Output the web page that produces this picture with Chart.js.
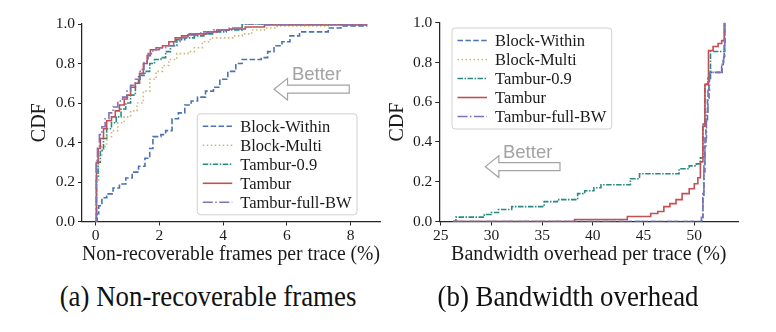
<!DOCTYPE html>
<html lang="en">
  <head>
    <meta charset="utf-8" />
    <title>Tambur CDFs</title>
    <script src="https://cdn.jsdelivr.net/npm/chart.js@4.4.1/dist/chart.umd.min.js"></script>
    <style>
      body { margin: 0; background: #fff; width: 776px; height: 332px; position: relative; overflow: hidden; }
      canvas { position: absolute; top: 0; }
      .caption {
        position: absolute; top: 279px; width: 400px; text-align: center;
        font-family: "Liberation Serif", serif; font-size: 30px; color: #111;
        transform: scaleX(0.895); white-space: nowrap;
      }
    </style>
  </head>
  <body>
    <canvas id="frames" width="388" height="275" style="left:0"></canvas>
    <canvas id="bandwidth" width="390" height="275" style="left:386px"></canvas>
    <div class="caption" style="left:8px">(a) Non-recoverable frames</div>
    <div class="caption" style="left:368px">(b) Bandwidth overhead</div>

    <script>
      const seriesNames = ['Block-Within', 'Block-Multi', 'Tambur-0.9', 'Tambur', 'Tambur-full-BW'];
      const seriesColors = ['#4c72b0', '#ccb974', '#2a8a83', '#c44e52', '#8172b3'];
      const seriesDashes = [[5.5, 2.4], [1.5, 2.5], [5.5, 1.5, 1.5, 1.5], [], [10, 2.5, 1.5, 2.5]];

      const cdfTicks = [0, 0.2, 0.4, 0.6, 0.8, 1.0];
      const framesTicks = [0, 2, 4, 6, 8];
      const bandwidthTicks = [25, 30, 35, 40, 45, 50];

      // (a) non-recoverable frames per trace (%)
      const framesBlockWithinX = [0, 0.05, 0.1, 0.2, 0.35, 0.55, 0.75, 0.95, 1.15, 1.35, 1.55, 1.7, 1.8, 2.05, 2.2, 2.4, 2.6, 2.8, 3.0, 3.2, 3.45, 3.7, 3.9, 4.15, 4.4, 4.6, 5.2, 5.4, 5.6, 5.85, 6.1, 6.4, 7.3, 7.7, 8.5];
      const framesBlockWithinCdf = [0, 0.04, 0.08, 0.12, 0.14, 0.17, 0.19, 0.22, 0.25, 0.28, 0.32, 0.37, 0.43, 0.44, 0.46, 0.52, 0.55, 0.59, 0.61, 0.63, 0.66, 0.68, 0.72, 0.76, 0.80, 0.82, 0.83, 0.86, 0.89, 0.91, 0.94, 0.96, 0.98, 0.99, 1.0];
      const framesBlockMultiX = [0, 0.03, 0.1, 0.2, 0.35, 0.5, 0.7, 0.9, 1.1, 1.3, 1.5, 1.7, 1.9, 2.1, 2.3, 2.55, 2.9, 3.1, 3.35, 3.6, 4.3, 4.6, 4.9, 5.3, 5.7, 7.3, 8.5];
      const framesBlockMultiCdf = [0, 0.20, 0.33, 0.38, 0.43, 0.46, 0.50, 0.53, 0.56, 0.60, 0.66, 0.72, 0.76, 0.79, 0.82, 0.85, 0.86, 0.88, 0.91, 0.93, 0.94, 0.95, 0.97, 0.98, 0.99, 1.0, 1.0];
      const framesTambur09X = [0, 0.03, 0.08, 0.15, 0.25, 0.35, 0.5, 0.65, 0.8, 0.95, 1.1, 1.25, 1.35, 1.55, 1.7, 1.85, 2.05, 2.2, 2.35, 2.55, 2.8, 3.1, 3.4, 3.7, 4.1, 4.6, 8.5];
      const framesTambur09Cdf = [0, 0.22, 0.30, 0.36, 0.42, 0.47, 0.50, 0.53, 0.57, 0.60, 0.64, 0.70, 0.74, 0.76, 0.80, 0.82, 0.83, 0.86, 0.89, 0.92, 0.93, 0.94, 0.95, 0.96, 0.97, 1.0, 1.0];
      const framesTamburX = [0, 0.03, 0.08, 0.15, 0.25, 0.35, 0.5, 0.62, 0.75, 0.9, 1.0, 1.1, 1.25, 1.38, 1.5, 1.62, 1.72, 1.9, 2.1, 2.3, 2.5, 2.7, 2.9, 3.2, 3.5, 3.8, 4.2, 4.7, 5.3, 8.5];
      const framesTamburCdf = [0, 0.30, 0.37, 0.42, 0.47, 0.51, 0.53, 0.56, 0.59, 0.62, 0.64, 0.68, 0.70, 0.75, 0.80, 0.84, 0.87, 0.88, 0.89, 0.91, 0.93, 0.94, 0.945, 0.95, 0.96, 0.97, 0.975, 0.985, 0.995, 1.0];
      const framesFullBwX = [0, 0.02, 0.06, 0.12, 0.2, 0.3, 0.42, 0.55, 0.7, 0.85, 0.98, 1.1, 1.25, 1.4, 1.52, 1.65, 1.8, 2.0, 2.2, 2.45, 2.65, 2.9, 3.3, 3.7, 4.2, 4.7, 8.5];
      const framesFullBwCdf = [0, 0.31, 0.38, 0.44, 0.48, 0.52, 0.55, 0.58, 0.61, 0.63, 0.66, 0.69, 0.72, 0.77, 0.81, 0.85, 0.87, 0.88, 0.89, 0.91, 0.93, 0.95, 0.96, 0.97, 0.98, 1.0, 1.0];

      // (b) bandwidth overhead per trace (%)
      const bwBlockWithinX = [26.2, 50.75, 50.85, 50.95, 51.05, 51.15, 51.3, 51.45, 52.7, 52.85, 52.95, 53.0];
      const bwBlockWithinCdf = [0, 0.02, 0.12, 0.25, 0.38, 0.5, 0.62, 0.75, 0.78, 0.82, 0.9, 1.0];
      const bwBlockMultiX = [];
      const bwBlockMultiCdf = [];
      const bwTambur09X = [26.2, 26.5, 29.3, 30.0, 30.7, 32.0, 35.2, 36.5, 38.5, 39.2, 40.1, 40.8, 43.7, 44.6, 48.5, 49.5, 50.2, 50.6, 50.85, 51.05, 51.35, 51.6, 53.0];
      const bwTambur09Cdf = [0, 0.022, 0.035, 0.045, 0.06, 0.075, 0.10, 0.11, 0.14, 0.155, 0.17, 0.185, 0.215, 0.24, 0.265, 0.28, 0.29, 0.32, 0.49, 0.69, 0.72, 0.855, 1.0];
      const bwTamburX = [26.2, 38.2, 43.4, 45.7, 46.4, 47.0, 47.6, 48.2, 48.8, 49.5, 50.0, 50.35, 50.6, 50.85, 51.05, 51.4, 51.85, 52.35, 52.7, 52.95];
      const bwTamburCdf = [0, 0.01, 0.025, 0.04, 0.05, 0.075, 0.09, 0.11, 0.14, 0.165, 0.19, 0.22, 0.30, 0.48, 0.69, 0.86, 0.88, 0.895, 0.91, 1.0];
      const bwFullBwX = [26.2, 50.7, 50.85, 50.95, 51.05, 51.2, 51.35, 51.5, 52.75, 52.9, 53.0];
      const bwFullBwCdf = [0, 0.02, 0.14, 0.28, 0.42, 0.55, 0.66, 0.75, 0.79, 0.83, 1.0];

      const SERIF = '"Liberation Serif", "Times New Roman", serif';
      const INK = '#1a1a1a';
      const SPINE = '#262626';

      function toPoints(xs, ys) {
        return xs.map((x, i) => ({ x: x, y: ys[i] }));
      }

      function buildDatasets(series) {
        return series.map((s, i) => ({
          label: seriesNames[i],
          data: toPoints(s[0], s[1]),
          borderColor: seriesColors[i],
          borderDash: seriesDashes[i],
          borderWidth: 1.6,
          stepped: true,
          pointRadius: 0,
          fill: false,
          // later series sit on top, like the plotting order
          order: series.length - i,
        }));
      }

      // legend box + "Better" arrow, drawn after the datasets
      const cdfExtras = {
        id: 'cdfExtras',
        afterDatasetsDraw(chart, args, opts) {
          const ctx = chart.ctx;
          const area = chart.chartArea;
          const xs = chart.scales.x, ys = chart.scales.y;

          // arrow pointing left
          const tipX = xs.getPixelForValue(opts.arrow.from);
          const tailX = xs.getPixelForValue(opts.arrow.to);
          const ay = ys.getPixelForValue(opts.arrow.y);
          const headLen = 13.5, headHalf = 10.8, shaftHalf = 4;
          ctx.save();
          ctx.beginPath();
          ctx.moveTo(tipX, ay);
          ctx.lineTo(tipX + headLen, ay - headHalf);
          ctx.lineTo(tipX + headLen, ay - shaftHalf);
          ctx.lineTo(tailX, ay - shaftHalf);
          ctx.lineTo(tailX, ay + shaftHalf);
          ctx.lineTo(tipX + headLen, ay + shaftHalf);
          ctx.lineTo(tipX + headLen, ay + headHalf);
          ctx.closePath();
          ctx.fillStyle = '#ffffff';
          ctx.fill();
          ctx.strokeStyle = '#a3a3a3';
          ctx.lineWidth = 1.2;
          ctx.stroke();
          ctx.font = '18.5px "Liberation Sans", Arial, sans-serif';
          ctx.fillStyle = '#a3a3a3';
          ctx.textAlign = 'center';
          ctx.textBaseline = 'alphabetic';
          ctx.fillText('Better', (tipX + tailX) / 2 + 5, ay - 9);
          ctx.restore();

          // legend
          const rowGap = 19, firstRow = 12.5, textOffset = 43;
          ctx.save();
          ctx.font = '16.5px ' + SERIF;
          const textW = Math.max(...seriesNames.map(n => ctx.measureText(n).width));
          const w = textOffset + textW + 5.5;
          const h = firstRow * 2 + rowGap * (seriesNames.length - 1);
          let bx, by;
          if (opts.legend.corner === 'lower right') {
            bx = area.right - opts.legend.dx - w;
            by = area.bottom - opts.legend.dy - h;
          } else {
            bx = area.left + opts.legend.dx;
            by = area.top + opts.legend.dy;
          }
          ctx.beginPath();
          ctx.roundRect(bx, by, w, h, 3);
          ctx.fillStyle = 'rgba(255,255,255,0.85)';
          ctx.fill();
          ctx.strokeStyle = '#d0d0d0';
          ctx.lineWidth = 1;
          ctx.stroke();
          seriesNames.forEach((name, i) => {
            const ry = by + firstRow + i * rowGap;
            ctx.beginPath();
            ctx.setLineDash(seriesDashes[i]);
            ctx.strokeStyle = seriesColors[i];
            ctx.lineWidth = 1.6;
            ctx.moveTo(bx + 5.5, ry);
            ctx.lineTo(bx + 35, ry);
            ctx.stroke();
            ctx.setLineDash([]);
            ctx.fillStyle = INK;
            ctx.textAlign = 'left';
            ctx.textBaseline = 'middle';
            ctx.fillText(name, bx + textOffset, ry + 1);
          });
          ctx.restore();
        }
      };

      function makeCdfChart(id, setup) {
        const tickFont = { family: SERIF, size: 15.5 };
        const titleFont = { family: SERIF, size: 20, lineHeight: 1.2 };
        return new Chart(document.getElementById(id).getContext('2d'), {
          type: 'line',
          data: { datasets: buildDatasets(setup.series) },
          options: {
            responsive: false,
            animation: false,
            events: [],
            layout: { padding: { left: 0, top: setup.padTop, right: setup.padRight, bottom: 0 } },
            plugins: {
              legend: { display: false },
              tooltip: { enabled: false },
              cdfExtras: { arrow: setup.arrow, legend: setup.legend },
            },
            scales: {
              x: {
                type: 'linear',
                min: setup.xMin,
                max: setup.xMax,
                afterBuildTicks: s => { s.ticks = setup.xTicks.map(v => ({ value: v })); },
                afterFit: s => { s.height = 53.5; },
                grid: { drawOnChartArea: false, drawTicks: true, tickLength: 4, color: SPINE, lineWidth: 1 },
                border: { display: true, color: SPINE, width: 1.25 },
                ticks: { font: tickFont, color: INK, padding: 1, maxRotation: 0, callback: v => String(v) },
                title: { display: true, text: setup.xTitle, font: titleFont, color: INK, padding: { top: 0, bottom: 8 } },
              },
              y: {
                type: 'linear',
                min: 0,
                max: 1,
                afterBuildTicks: s => { s.ticks = cdfTicks.map(v => ({ value: v })); },
                afterFit: s => { s.width = setup.yWidth; },
                grid: { drawOnChartArea: false, drawTicks: true, tickLength: 4, color: SPINE, lineWidth: 1 },
                border: { display: true, color: SPINE, width: 1.25 },
                ticks: { font: tickFont, color: INK, padding: 3, callback: v => v.toFixed(1) },
                title: { display: true, text: 'CDF', font: titleFont, color: INK, padding: { top: setup.yTitlePad, bottom: 0 } },
              },
            },
          },
          plugins: [cdfExtras],
        });
      }

      makeCdfChart('frames', {
        series: [
          [framesBlockWithinX, framesBlockWithinCdf],
          [framesBlockMultiX, framesBlockMultiCdf],
          [framesTambur09X, framesTambur09Cdf],
          [framesTamburX, framesTamburCdf],
          [framesFullBwX, framesFullBwCdf],
        ],
        xMin: -0.425, xMax: 8.925, xTicks: framesTicks,
        xTitle: 'Non-recoverable frames per trace (%)',
        yWidth: 82, yTitlePad: 28, padTop: 24, padRight: 8,
        arrow: { from: 5.6, to: 7.96, y: 0.67 },
        legend: { corner: 'lower right', dx: 23, dy: 6.7 },
      });

      makeCdfChart('bandwidth', {
        series: [
          [bwBlockWithinX, bwBlockWithinCdf],
          [bwBlockMultiX, bwBlockMultiCdf],
          [bwTambur09X, bwTambur09Cdf],
          [bwTamburX, bwTamburCdf],
          [bwFullBwX, bwFullBwCdf],
        ],
        xMin: 24.86, xMax: 54.34, xTicks: bandwidthTicks,
        xTitle: 'Bandwidth overhead per trace (%)',
        yWidth: 53.3, yTitlePad: 0, padTop: 22.7, padRight: 37.7,
        arrow: { from: 29.4, to: 36.76, y: 0.276 },
        legend: { corner: 'upper left', dx: 12.7, dy: 5.3 },
      });
    </script>
  </body>
</html>
